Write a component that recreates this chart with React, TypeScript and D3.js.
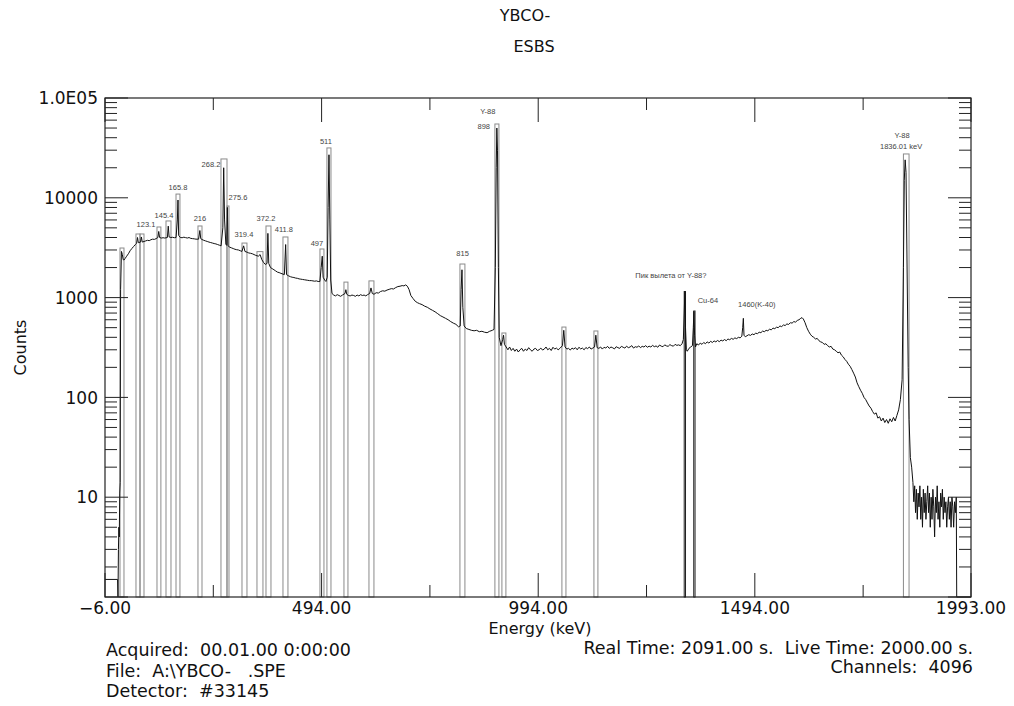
import React, { useEffect, useRef } from "react";
import * as d3 from "d3";

// chart data
const titleLines = ["YBCO-", "ESBS"];
const xMajorTicks = [-6, 494, 994, 1494, 1993];
const xMinorTicks = [244, 744, 1244, 1744];
const yLabelTicks = [10, 100, 1000, 10000, 100000];
const yTickLabels = ["10", "100", "1000", "10000", "1.0E05"];

// [energy keV, counts]
const spectrum: [number, number][] = [
  [-6, 1.5], [23, 1.5], [24, 1], [25, 3], [26, 5], [27, 4], [28, 11], [29, 14],
  [30, 1200], [32, 2900], [34, 2700], [36, 2400], [38, 2380],
  [40, 2450], [44, 2600], [48, 2750], [52, 2950], [56, 3100], [60, 3250], [64, 3400],
  [67, 3500], [69, 4000], [71, 3550], [76, 3600], [78, 4050], [80, 3600],
  [84, 3650], [88, 3700], [92, 3750], [96, 3720], [100, 3800], [104, 3850], [108, 3830], [112, 3900],
  [116, 4000], [118, 4600], [120, 4000], [124, 3950], [128, 3980], [132, 3950],
  [138, 4000], [140, 5200], [142, 4050], [146, 4000], [150, 4020], [154, 3980],
  [158, 4000], [161, 6000], [162.5, 9500], [164, 4200],
  [168, 4000], [172, 3980], [176, 4030], [180, 3990], [184, 3950], [188, 4000], [192, 3920],
  [196, 3900], [200, 3880], [204, 3850],
  [210, 3850], [213, 4700], [215, 3900],
  [218, 3820], [222, 3750], [226, 3700], [230, 3650], [234, 3600], [238, 3560], [242, 3520],
  [246, 3480], [250, 3450], [254, 3400], [258, 3350],
  [262, 3300], [266, 5000], [268, 20000], [270, 6000], [273, 3400],
  [275, 3350], [276.5, 8000], [278, 3300],
  [282, 3200], [286, 3150], [290, 3100], [294, 3050], [298, 3020], [302, 3000], [306, 2950],
  [310, 2900], [314, 3300], [317, 2900],
  [322, 2850], [326, 2800], [330, 2780], [334, 2750], [338, 2700], [342, 2650],
  [348, 2600], [352, 2700], [356, 2400], [360, 2250], [364, 2150],
  [368, 2200], [370, 4400], [372, 2200],
  [376, 2000], [380, 1950], [384, 1900], [388, 1850], [392, 1800], [396, 1780], [400, 1750],
  [408, 1700], [411, 3400], [413, 1700],
  [418, 1650], [422, 1620], [426, 1600], [430, 1590], [434, 1570], [438, 1560], [442, 1540],
  [446, 1530], [450, 1520], [454, 1510], [458, 1500], [462, 1490], [466, 1480], [470, 1480],
  [474, 1470], [478, 1460], [482, 1470], [486, 1450],
  [490, 1450], [493, 2000], [495.5, 2600], [497.5, 1600], [501, 1500], [504, 1450],
  [507, 1600], [509, 8000], [511, 27000], [513, 6000], [515, 1500],
  [518, 1100], [522, 1060], [526, 1040], [530, 1070], [534, 1050], [538, 1030], [542, 1060],
  [548, 1100], [550, 1200], [552, 1080],
  [556, 1050], [560, 1040], [564, 1060], [568, 1050], [572, 1030], [576, 1060], [580, 1040],
  [584, 1070], [588, 1050], [592, 1060], [596, 1040], [600, 1070],
  [605, 1100], [608, 1250], [611, 1100],
  [615, 1080], [620, 1120], [625, 1110], [630, 1150], [635, 1170], [640, 1160], [645, 1190],
  [650, 1210], [655, 1230], [660, 1220], [665, 1260], [670, 1290], [675, 1300], [680, 1320],
  [684, 1310], [688, 1340], [692, 1300],
  [696, 1200], [700, 1050], [705, 980], [710, 920], [715, 890], [720, 870], [726, 850],
  [732, 820], [738, 800], [744, 770], [750, 745], [756, 720], [762, 690], [768, 660],
  [774, 640], [780, 620], [786, 600], [792, 575], [798, 555], [804, 540], [810, 510],
  [814, 520], [816, 1200], [818, 1900], [820, 800], [823, 520],
  [828, 490], [834, 480], [840, 470], [846, 465], [852, 470], [858, 455], [864, 460],
  [870, 450], [876, 445], [882, 460], [888, 470], [892, 480],
  [895, 2000], [897, 20000], [898.5, 50000], [900, 30000], [902, 2000], [904, 400], [908, 330],
  [912, 380], [914, 420], [916, 340],
  [920, 320], [924, 300], [928, 320], [932, 295], [936, 310], [940, 290], [944, 305],
  [948, 285], [952, 300], [956, 310], [960, 290], [964, 305], [968, 295], [972, 315],
  [976, 300], [980, 290], [984, 305], [988, 310], [992, 295], [996, 300], [1000, 312],
  [1004, 298], [1008, 305], [1012, 320], [1016, 300], [1020, 310], [1024, 295], [1028, 318],
  [1032, 305], [1036, 312], [1040, 300], [1044, 310],
  [1050, 330], [1053, 470], [1056, 320],
  [1060, 305], [1064, 310], [1068, 298], [1072, 312], [1076, 305], [1080, 315], [1084, 300],
  [1088, 318], [1092, 306], [1096, 312], [1100, 300], [1104, 316], [1108, 308], [1112, 320],
  [1116, 305], [1120, 312],
  [1124, 320], [1127, 420], [1130, 315],
  [1134, 310], [1138, 320], [1142, 305], [1146, 318], [1150, 312], [1154, 325], [1158, 310],
  [1162, 320], [1166, 314], [1170, 306], [1174, 322], [1178, 315], [1182, 310], [1186, 325],
  [1190, 318], [1194, 312], [1198, 326], [1202, 315], [1206, 320], [1210, 330], [1214, 312],
  [1218, 322], [1222, 318], [1226, 328], [1230, 315], [1234, 325], [1238, 320], [1242, 330],
  [1246, 318], [1250, 326], [1254, 320], [1258, 332], [1262, 322], [1266, 328], [1270, 318],
  [1274, 335], [1278, 326], [1282, 322], [1286, 336], [1290, 328], [1294, 325], [1298, 338],
  [1302, 330], [1306, 326], [1310, 340], [1314, 332], [1318, 336], [1322, 330], [1326, 345],
  [1329, 380], [1331, 700], [1332.5, 1150], [1334, 500], [1336, 300], [1338, 290],
  [1342, 310], [1346, 320], [1350, 330], [1352, 500], [1353.5, 730], [1355, 420], [1357, 320],
  [1360, 345], [1364, 335], [1368, 350], [1372, 340], [1376, 355], [1380, 345], [1384, 360],
  [1388, 350], [1392, 365], [1396, 355], [1400, 368], [1404, 360], [1408, 372], [1412, 362],
  [1416, 375], [1420, 368], [1424, 380], [1428, 370], [1432, 385], [1436, 378], [1440, 390],
  [1444, 382], [1448, 395], [1452, 388], [1456, 400],
  [1460, 395], [1464, 410], [1466, 500], [1467.5, 620], [1469, 420], [1472, 405],
  [1476, 415], [1480, 425], [1484, 418], [1488, 432], [1492, 425], [1496, 440], [1500, 435],
  [1504, 450], [1508, 445], [1512, 462], [1516, 455], [1520, 470], [1524, 465], [1528, 482],
  [1532, 475], [1536, 495], [1540, 488], [1544, 505], [1548, 500], [1552, 520], [1556, 512],
  [1560, 532], [1564, 525], [1568, 545], [1572, 538], [1576, 560], [1580, 555], [1584, 575],
  [1588, 568], [1592, 590], [1596, 600], [1600, 620], [1603, 630], [1606, 610],
  [1610, 560], [1614, 500], [1618, 460], [1622, 430], [1626, 410], [1630, 400], [1634, 385],
  [1638, 390], [1642, 370], [1646, 360], [1650, 355], [1654, 340], [1658, 345], [1662, 330],
  [1666, 320], [1670, 325], [1674, 305], [1678, 300], [1682, 290], [1686, 280], [1690, 285],
  [1694, 265], [1698, 255], [1702, 240], [1706, 230], [1710, 215], [1714, 205], [1718, 190],
  [1722, 175], [1726, 160], [1730, 140], [1734, 128], [1738, 118], [1742, 110], [1746, 100],
  [1750, 95], [1754, 88], [1758, 82], [1762, 78], [1766, 72], [1770, 68], [1774, 70],
  [1778, 62], [1782, 64], [1786, 58], [1790, 62], [1794, 56], [1798, 60], [1802, 55],
  [1806, 61], [1810, 57], [1814, 63], [1818, 58], [1822, 66], [1826, 75], [1830, 95],
  [1834, 150], [1837, 2000], [1839, 15000], [1841, 24000], [1843, 18000], [1845, 3000],
  [1848, 200], [1850, 60], [1853, 25], [1856, 20],
  [1859, 14], [1861, 9], [1863, 13], [1865, 7], [1867, 12], [1869, 6], [1871, 11], [1873, 8],
  [1875, 13], [1877, 6], [1879, 10], [1881, 5], [1883, 12], [1885, 7], [1887, 11], [1889, 6],
  [1891, 9], [1893, 13], [1895, 7], [1897, 11], [1899, 5], [1901, 10], [1903, 6], [1905, 12],
  [1907, 8], [1909, 4], [1911, 10], [1913, 7], [1915, 13], [1917, 6], [1919, 9], [1921, 5],
  [1923, 11], [1925, 8], [1927, 12], [1929, 6], [1931, 10], [1933, 7], [1935, 9], [1937, 5],
  [1939, 8], [1941, 10], [1943, 6], [1945, 9], [1947, 5], [1949, 10], [1951, 8], [1953, 5],
  [1955, 9], [1957, 7], [1959, 10], [1960, 1], [1993, 1],
];

// ROI boxes: [start keV, end keV, top counts]
const rois: [number, number, number][] = [
  [28.6, 37.8, 3140], [65.5, 74.8, 4340], [74.8, 84, 4340], [114, 123, 5100],
  [134.8, 146.3, 5860], [157.9, 167, 10900], [208.6, 217.9, 5220], [261.7, 275.6, 24500],
  [275.6, 280.2, 8280], [310.2, 321.7, 3520], [344.8, 358.6, 2890], [365.6, 377.1, 5220],
  [404.8, 416.3, 4050], [490.2, 499.4, 3070], [506.3, 515.6, 31600], [545.6, 554.8, 1430],
  [603.3, 614.8, 1470], [813.3, 824.8, 2170], [894, 903.3, 54900], [910.2, 919.4, 442],
  [1048.7, 1058, 507], [1122.6, 1131.8, 463], [1837, 1850, 27500],
];
// narrow markers drawn in black
const markers: [number, number, number][] = [
  [1331, 1334, 1150],
  [1353, 1356, 734],
];

// peak annotations: [text, energy keV, counts] (text centre / baseline)
const peakLabels: [string, number, number][] = [
  ["123.1", 88.6, 5100], ["145.4", 130.2, 6280], ["165.8", 162.5, 11970],
  ["216", 213.2, 5860], ["268.2", 238.6, 20400], ["275.6", 300.9, 9500],
  ["319.4", 314.7, 4050], ["372.2", 365.5, 5860], ["411.8", 407, 4540],
  ["497", 483.2, 3290], ["511", 504, 34600], ["815", 819.4, 2610],
  ["Y-88", 877.6, 69100], ["898", 868.4, 48900],
  ["Пик вылета от Y-88?", 1300.2, 1570], ["Cu-64", 1385.6, 883],
  ["1460(K-40)", 1498.7, 805],
  ["Y-88", 1833.9, 39700], ["1836.01 keV", 1831.6, 30800],
];

const footerLeft = ["Acquired:  00.01.00 0:00:00", "File:  A:\\YBCO-   .SPE", "Detector:  #33145"];
const footerRight = ["Real Time: 2091.00 s.  Live Time: 2000.00 s.", "Channels:  4096"];

const W = 1014;
const H = 706;

export default function App() {
  const ref = useRef<SVGSVGElement>(null);

  useEffect(() => {
    const svg = d3.select(ref.current);
    svg.selectAll("*").remove();

    const font = "'DejaVu Sans', Verdana, sans-serif";
    const left = 105, right = 971, top = 98, bottom = 597;

    const x = d3.scaleLinear().domain([-6, 1993]).range([left, right]);
    const y = d3.scaleLog().domain([1, 1e5]).range([bottom, top]);

    svg.append("rect").attr("width", W).attr("height", H).attr("fill", "#fff");

    // titles
    titleLines.forEach((t, i) => {
      svg
        .append("text")
        .attr("x", i === 0 ? 525 : 534)
        .attr("y", i === 0 ? 21 : 52)
        .attr("text-anchor", "middle")
        .style("font-family", font)
        .style("font-size", "16px")
        .style("fill", "#111")
        .text(t);
    });

    // ROI boxes
    svg
      .append("g")
      .selectAll("rect")
      .data(rois)
      .join("rect")
      .attr("x", (d) => x(d[0]))
      .attr("width", (d) => x(d[1]) - x(d[0]))
      .attr("y", (d) => y(d[2]))
      .attr("height", (d) => bottom - y(d[2]))
      .attr("fill", "none")
      .attr("stroke", "#8a8a8a")
      .attr("stroke-width", 1);

    svg
      .append("g")
      .selectAll("rect")
      .data(markers)
      .join("rect")
      .attr("x", (d) => x(d[0]))
      .attr("width", (d) => x(d[1]) - x(d[0]))
      .attr("y", (d) => y(d[2]))
      .attr("height", (d) => bottom - y(d[2]))
      .attr("fill", "none")
      .attr("stroke", "#222")
      .attr("stroke-width", 1);

    // spectrum
    const line = d3
      .line<[number, number]>()
      .x((d) => x(d[0]))
      .y((d) => y(Math.max(1, d[1])));

    svg
      .append("path")
      .datum(spectrum)
      .attr("d", line)
      .attr("fill", "none")
      .attr("stroke", "#111")
      .attr("stroke-width", 1);

    // frame
    svg
      .append("rect")
      .attr("x", left)
      .attr("y", top)
      .attr("width", right - left)
      .attr("height", bottom - top)
      .attr("fill", "none")
      .attr("stroke", "#222")
      .attr("stroke-width", 1.2);

    // y ticks, both sides, pointing inward
    const yt = y.ticks();
    const isMajor = (v: number) => Math.abs(Math.log10(v) - Math.round(Math.log10(v))) < 1e-6;
    const ticks = svg.append("g").attr("stroke", "#222").attr("stroke-width", 1);
    yt.forEach((v) => {
      const len = isMajor(v) ? 23 : 12;
      ticks.append("line").attr("x1", left).attr("x2", left + len).attr("y1", y(v)).attr("y2", y(v));
      ticks.append("line").attr("x1", right).attr("x2", right - len).attr("y1", y(v)).attr("y2", y(v));
    });

    // x ticks, top and bottom
    xMajorTicks.forEach((v) => {
      ticks.append("line").attr("x1", x(v)).attr("x2", x(v)).attr("y1", bottom).attr("y2", bottom - 24);
      ticks.append("line").attr("x1", x(v)).attr("x2", x(v)).attr("y1", top).attr("y2", top + 24);
    });
    xMinorTicks.forEach((v) => {
      ticks.append("line").attr("x1", x(v)).attr("x2", x(v)).attr("y1", bottom).attr("y2", bottom - 12);
      ticks.append("line").attr("x1", x(v)).attr("x2", x(v)).attr("y1", top).attr("y2", top + 12);
    });

    // tick labels
    yLabelTicks.forEach((v, i) => {
      svg
        .append("text")
        .attr("x", left - 7)
        .attr("y", y(v))
        .attr("dy", "0.36em")
        .attr("text-anchor", "end")
        .style("font-family", font)
        .style("font-size", "17px")
        .style("fill", "#111")
        .text(yTickLabels[i]);
    });

    xMajorTicks.forEach((v) => {
      svg
        .append("text")
        .attr("x", x(v))
        .attr("y", bottom + 17)
        .attr("text-anchor", "middle")
        .style("font-family", font)
        .style("font-size", "17px")
        .style("fill", "#111")
        .text(v < 0 ? "\u2212" + Math.abs(v).toFixed(2) : v.toFixed(2));
    });

    // axis titles
    svg
      .append("text")
      .attr("transform", `translate(26,${(top + bottom) / 2}) rotate(-90)`)
      .attr("text-anchor", "middle")
      .style("font-family", font)
      .style("font-size", "16px")
      .style("fill", "#111")
      .text("Counts");

    svg
      .append("text")
      .attr("x", (left + right) / 2 + 2)
      .attr("y", 634)
      .attr("text-anchor", "middle")
      .style("font-family", font)
      .style("font-size", "16px")
      .style("fill", "#111")
      .text("Energy (keV)");

    // peak labels
    svg
      .append("g")
      .selectAll("text")
      .data(peakLabels)
      .join("text")
      .attr("x", (d) => x(d[1]))
      .attr("y", (d) => y(d[2]))
      .attr("text-anchor", "middle")
      .style("font-family", "'Liberation Sans', Arial, sans-serif")
      .style("font-size", "7.5px")
      .style("fill", "#444")
      .text((d) => d[0]);

    // footer
    footerLeft.forEach((t, i) => {
      svg
        .append("text")
        .attr("x", 106)
        .attr("y", [656, 677, 697][i])
        .style("font-family", font)
        .style("font-size", "17.5px")
        .style("fill", "#111")
        .style("white-space", "pre")
        .text(t);
    });
    footerRight.forEach((t, i) => {
      svg
        .append("text")
        .attr("x", 973)
        .attr("y", [654, 673][i])
        .attr("text-anchor", "end")
        .style("font-family", font)
        .style("font-size", "17.5px")
        .style("fill", "#111")
        .style("white-space", "pre")
        .text(t);
    });
  }, []);

  return (
    <svg
      ref={ref}
      width={W}
      height={H}
      style={{ position: "fixed", left: 0, top: 0, display: "block" }}
    />
  );
}
